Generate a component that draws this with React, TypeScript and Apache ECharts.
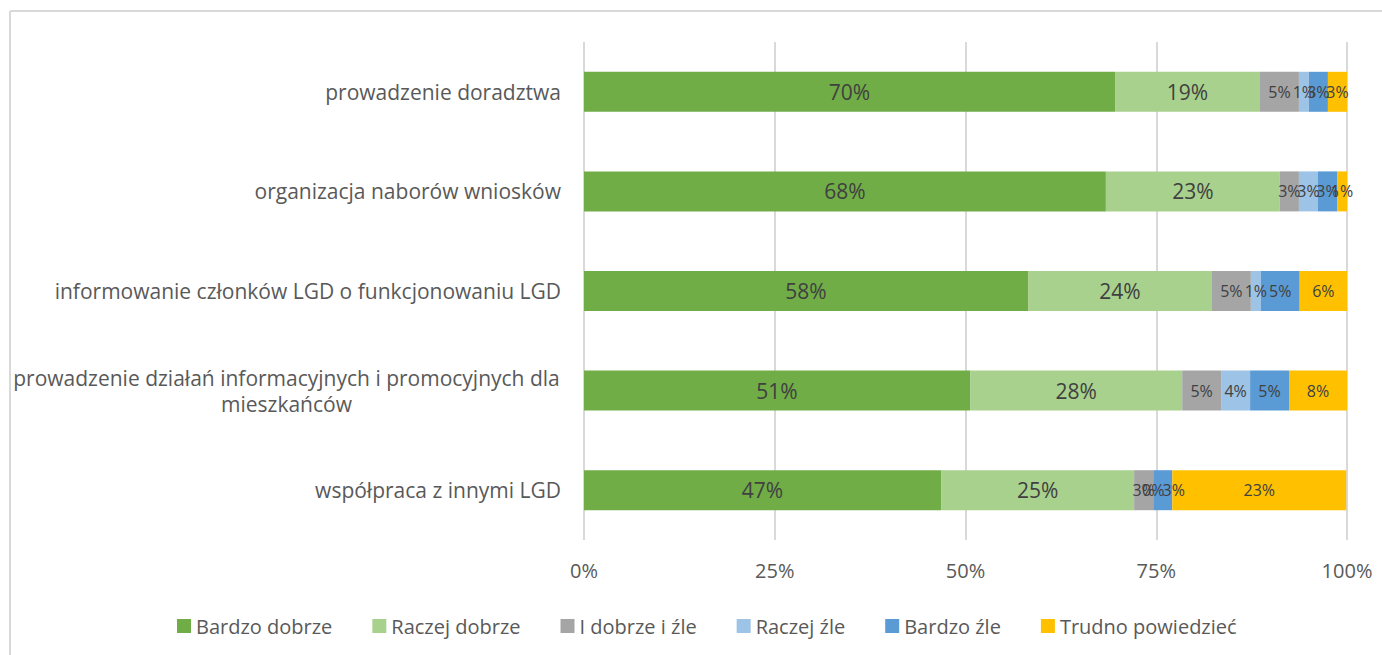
import React, { useEffect, useRef } from 'react';
import * as echarts from 'echarts';

const categories = [
  'prowadzenie doradztwa',
  'organizacja naborów wniosków',
  'informowanie członków LGD o funkcjonowaniu LGD',
  'prowadzenie działań informacyjnych i promocyjnych dla mieszkańców',
  'współpraca z innymi LGD',
];
const seriesNames = ['Bardzo dobrze', 'Raczej dobrze', 'I dobrze i źle', 'Raczej źle', 'Bardzo źle', 'Trudno powiedzieć'];
const bardzoDobrze = [69.6, 68.4, 58.2, 50.6, 46.8];
const raczejDobrze = [19.0, 22.8, 24.1, 27.8, 25.3];
const iDobrzeIZle = [5.1, 2.5, 5.1, 5.1, 2.5];
const raczejZle = [1.3, 2.5, 1.3, 3.8, 0];
const bardzoZle = [2.5, 2.5, 5.1, 5.1, 2.5];
const trudnoPowiedziec = [2.5, 1.3, 6.3, 7.6, 22.8];
const seriesValues = [bardzoDobrze, raczejDobrze, iDobrzeIZle, raczejZle, bardzoZle, trudnoPowiedziec];
const seriesColors = ['#70AD47', '#A9D18E', '#A5A5A5', '#9DC3E6', '#5B9BD5', '#FFC000'];
const xTicks = [0, 25, 50, 75, 100];

const FONT = '"Open Sans", "Noto Sans", sans-serif';
const LONG_LINE1 = 'prowadzenie działań informacyjnych i promocyjnych dla';
const LONG_LINE2 = 'mieszkańców';

export default function App() {
  const ref = useRef<HTMLDivElement>(null);
  useEffect(() => {
    if (!ref.current) return;
    const chart = echarts.init(ref.current, undefined, { renderer: 'svg' });
    const cv = document.createElement('canvas').getContext('2d');
    let w1 = 546;
    if (cv) {
      cv.font = '21px "Open Sans"';
      w1 = Math.ceil(cv.measureText(LONG_LINE1).width) + 2;
    }
    chart.setOption({
      animation: false,
      backgroundColor: '#ffffff',
      textStyle: { fontFamily: FONT },
      graphic: [
        { type: 'line', shape: { x1: 10, y1: 11, x2: 10, y2: 700 }, style: { stroke: '#d9d9d9', lineWidth: 2 } },
        { type: 'line', shape: { x1: 10, y1: 11, x2: 1400, y2: 11 }, style: { stroke: '#d9d9d9', lineWidth: 2 } },
      ],
      grid: { left: 584, right: 35, top: 42, bottom: 115, containLabel: false },
      legend: {
        left: 172,
        top: 611,
        itemWidth: 14,
        itemHeight: 14,
        itemGap: 40,
        icon: 'rect',
        textStyle: { fontSize: 20, color: '#595959', fontFamily: FONT },
        data: seriesNames,
      },
      xAxis: {
        type: 'value',
        min: xTicks[0],
        max: xTicks[xTicks.length - 1],
        interval: 25,
        axisLine: { show: false },
        axisTick: { show: false },
        splitLine: { show: true, lineStyle: { color: '#d9d9d9', width: 2 } },
        axisLabel: { formatter: '{value}%', fontSize: 20, color: '#595959', margin: 20, fontFamily: FONT },
      },
      yAxis: {
        type: 'category',
        inverse: true,
        data: categories,
        axisLine: { show: false },
        axisTick: { show: false },
        axisLabel: {
          fontSize: 21,
          color: '#595959',
          margin: 23,
          fontFamily: FONT,
          formatter: (v: string) =>
            v.startsWith('prowadzenie działań') ? `{c|${LONG_LINE1}}\n{c|${LONG_LINE2}}` : v,
          rich: {
            c: { width: w1, align: 'center', fontSize: 21, color: '#595959', lineHeight: 26, fontFamily: FONT },
          },
        },
      },
      series: seriesNames.map((name, i) => ({
        name,
        type: 'bar',
        stack: 'total',
        barWidth: 40,
        data: seriesValues[i].map((v, j) =>
          i === 4 && j === 4 ? { value: v, label: { offset: [11, 0] } } : v
        ),
        itemStyle: { color: seriesColors[i] },
        label: {
          show: true,
          position: 'inside',
          formatter: (p: any) => `${Math.round(p.value)}%`,
          fontSize: i < 2 ? 21 : 16,
          color: '#404040',
          fontFamily: FONT,
        },
      })),
    });
    return () => chart.dispose();
  }, []);
  return <div ref={ref} style={{ position: 'absolute', left: 0, top: 0, width: 1382, height: 655 }} />;
}
